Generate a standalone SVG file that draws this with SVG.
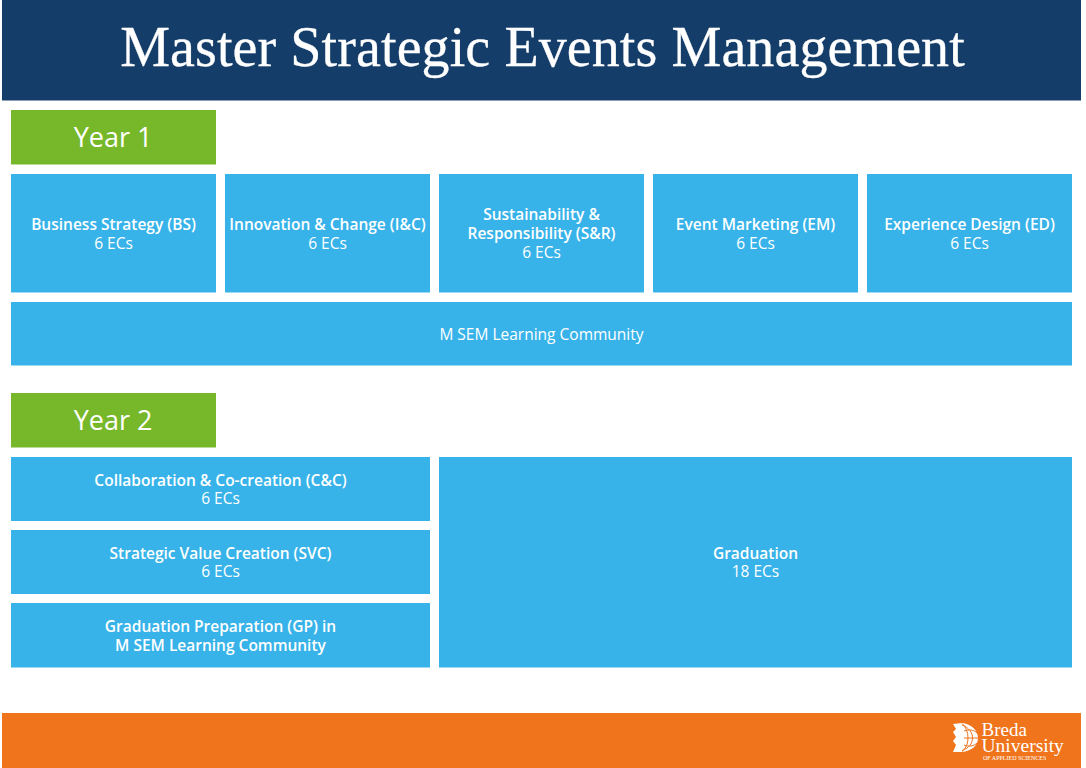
<svg xmlns="http://www.w3.org/2000/svg" width="1086" height="768" viewBox="0 0 1086 768">
<style>
.b{fill:#38b3e9}
.g{fill:#77b82a}
text{font-family:"Open Sans","Noto Sans","Liberation Sans",sans-serif;fill:#fff;text-anchor:middle}
.l{font-size:15.500px;font-weight:600}
.e{font-size:15.500px;font-weight:400}
.y{font-size:27px;font-weight:400}
.s{font-family:"Liberation Serif",serif}
</style>
<rect width="1086" height="768" fill="#fff"/>
<g id="header"><rect x="2" y="0" width="1079" height="100.500" fill="#143d69"/>
<text class="s" x="542.500" y="66" font-size="56" letter-spacing="0.100" stroke="#fff" stroke-width="0.300">Master Strategic Events Management</text></g>
<g id="year1"><rect class="g" x="11" y="110" width="205" height="54.500"/><text class="y" x="113" y="147">Year 1</text></g>
<g id="bs"><rect class="b" x="11" y="174" width="205" height="118.500"/><text class="l" x="113.500" y="229.500">Business Strategy (BS)</text><text class="e" x="113.500" y="248.500">6 ECs</text></g>
<g id="ic"><rect class="b" x="225" y="174" width="205" height="118.500"/><text class="l" x="327.500" y="229.500">Innovation &amp; Change (I&amp;C)</text><text class="e" x="327.500" y="248.500">6 ECs</text></g>
<g id="sr"><rect class="b" x="439" y="174" width="205" height="118.500"/><text class="l" x="541.500" y="220">Sustainability &amp;</text><text class="l" x="541.500" y="239">Responsibility (S&amp;R)</text><text class="e" x="541.500" y="258">6 ECs</text></g>
<g id="em"><rect class="b" x="653" y="174" width="205" height="118.500"/><text class="l" x="755.500" y="229.500">Event Marketing (EM)</text><text class="e" x="755.500" y="248.500">6 ECs</text></g>
<g id="ed"><rect class="b" x="867" y="174" width="205" height="118.500"/><text class="l" x="969.500" y="229.500">Experience Design (ED)</text><text class="e" x="969.500" y="248.500">6 ECs</text></g>
<g id="community"><rect class="b" x="11" y="302" width="1061" height="63.500"/><text class="e" x="541.500" y="339.500">M SEM Learning Community</text></g>
<g id="year2"><rect class="g" x="11" y="393" width="205" height="54.500"/><text class="y" x="113" y="430">Year 2</text></g>
<g id="cc"><rect class="b" x="11" y="457" width="419" height="64"/><text class="l" x="220.500" y="485.500">Collaboration &amp; Co-creation (C&amp;C)</text><text class="e" x="220.500" y="504">6 ECs</text></g>
<g id="svc"><rect class="b" x="11" y="530" width="419" height="64"/><text class="l" x="220.500" y="558.500">Strategic Value Creation (SVC)</text><text class="e" x="220.500" y="577">6 ECs</text></g>
<g id="gp"><rect class="b" x="11" y="603" width="419" height="64.500"/><text class="l" x="220.500" y="631.500">Graduation Preparation (GP) in</text><text class="l" x="220.500" y="650.500">M SEM Learning Community</text></g>
<g id="graduation"><rect class="b" x="439" y="457" width="633" height="210.500"/><text class="l" x="755.500" y="558.500">Graduation</text><text class="e" x="755.500" y="577">18 ECs</text></g>
<g id="footer"><rect x="2" y="713" width="1079" height="55" fill="#ef741b"/>
<path d="M953 724 962 723C971 724 978 730 978 738 978 746 971 751 962 752L953 752 956 745 953 741 956 737 953 732 956 729Z" fill="#fff"/>
<path d="M962 723.500C970 730 970 746 962 751.500M962 725C976 730 976 746 962 750.500M964 731C969 729 974 730 977 733M964 738H978M964 745C969 747 974 746 977 743" fill="none" stroke="#ef741b" stroke-width="1"/>
<text class="s" x="981.500" y="736" font-size="19" style="text-anchor:start">Breda</text>
<text class="s" x="981.500" y="752" font-size="19.500" style="text-anchor:start">University</text>
<text class="s" x="983" y="759.500" font-size="6" style="text-anchor:start">OF APPLIED SCIENCES</text></g>
</svg>
